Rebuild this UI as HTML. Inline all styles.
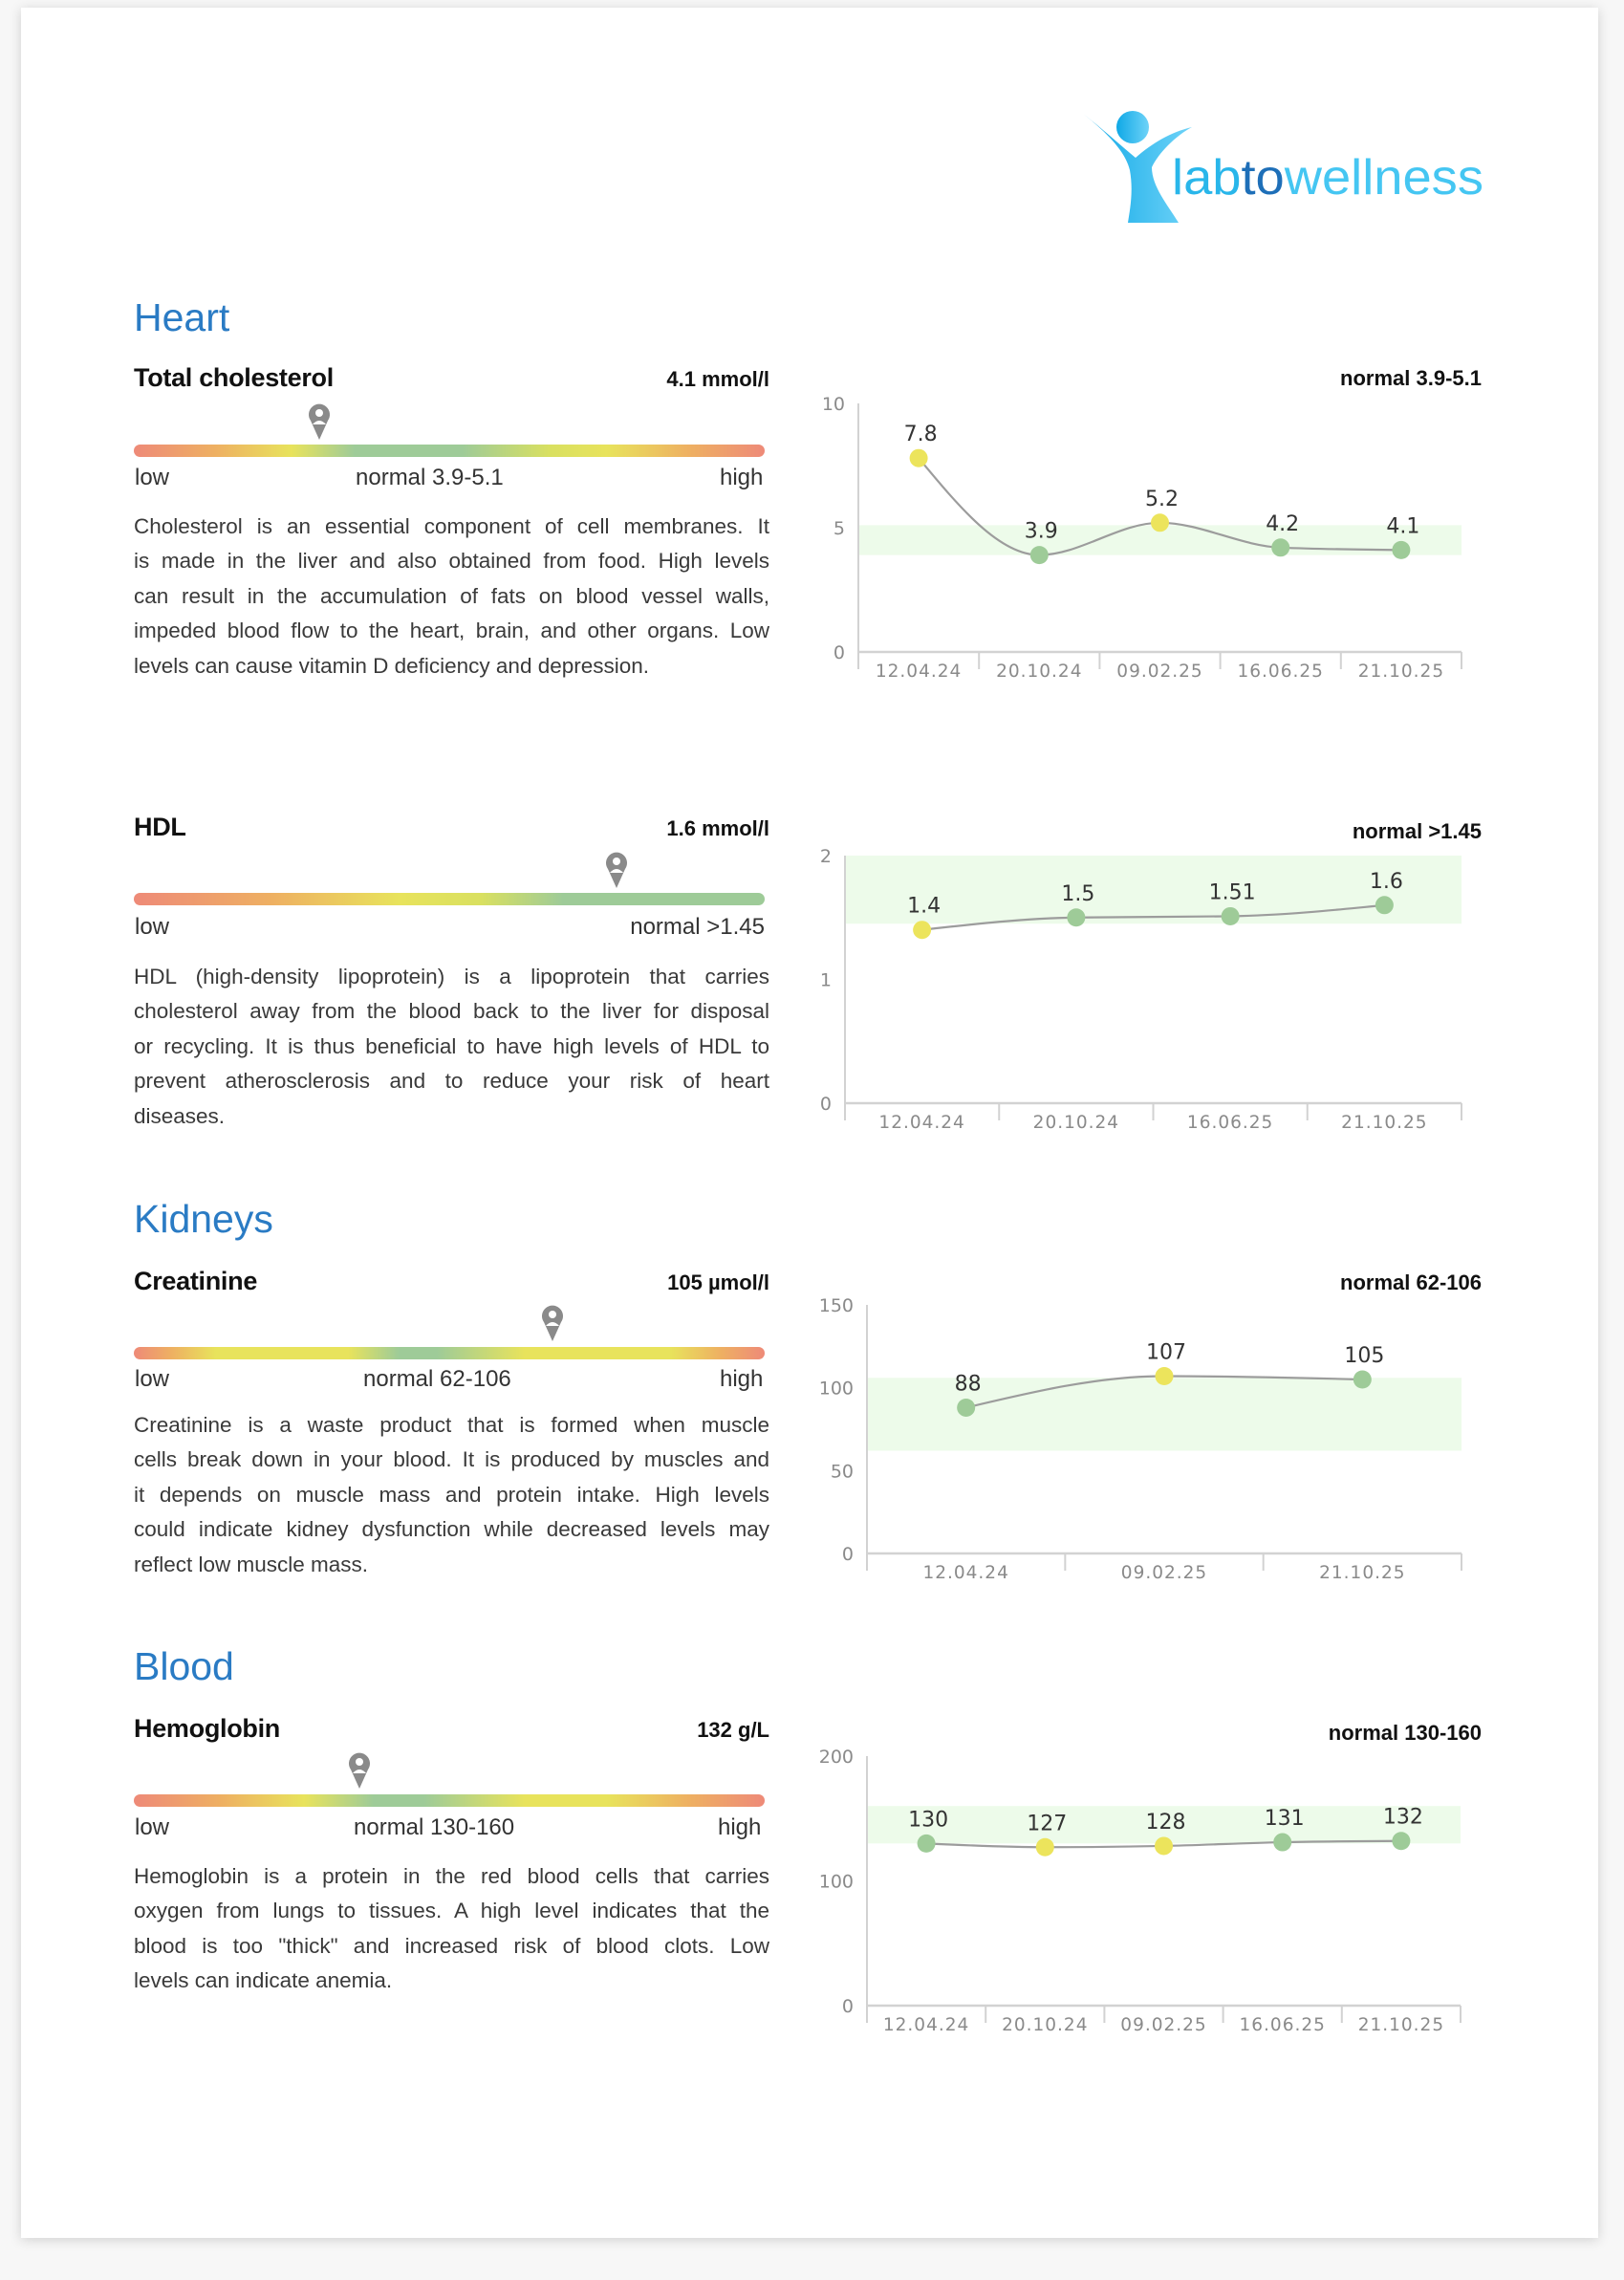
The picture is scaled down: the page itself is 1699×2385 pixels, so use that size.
<!DOCTYPE html>
<html><head><meta charset="utf-8">
<style>
html,body{margin:0;padding:0;background:#f7f7f7;}
body{width:1699px;height:2385px;position:relative;overflow:hidden;font-family:"Liberation Sans",sans-serif;}
#card{position:absolute;left:22px;top:8px;width:1650px;height:2333px;background:#fff;box-shadow:0 2px 12px rgba(0,0,0,0.16);}
.abs{position:absolute;}
.section{color:#2a7bc4;font-size:41px;line-height:1;}
.mtitle{font-size:27px;color:#111;line-height:1;font-weight:bold;letter-spacing:-0.3px;}
.mval{font-size:22px;color:#111;font-weight:bold;line-height:1;text-align:right;}
.lbl{font-size:24px;color:#333;line-height:1;}
.bar{height:13px;border-radius:7px;left:140px;width:660px;}
.para{left:140px;width:665px;font-size:22.5px;color:#3a3a3a;}
.para div{height:36.4px;line-height:36.4px;text-align:justify;text-align-last:justify;white-space:nowrap;}
.para div.last{text-align-last:left;}
</style></head>
<body>
<div id="card"></div>

<svg class="abs" style="left:0;top:0" width="1699" height="2385">
  <defs>
    <linearGradient id="lg1" x1="0" y1="0" x2="1" y2="0"><stop offset="0" stop-color="#0fa8e6"/><stop offset="1" stop-color="#6fd3f8"/></linearGradient>
  </defs>
  <circle cx="1185" cy="133" r="17" fill="url(#lg1)"/>
  <path d="M1133,119 C1160,140 1178,160 1182,178 C1186,200 1182,220 1180,233 L1233,233 C1222,215 1205,195 1205,175 C1212,160 1230,142 1247,133 C1225,138 1205,150 1188,165 C1170,150 1150,132 1133,119 Z" fill="url(#lg1)"/>
  <text x="1226" y="203" font-family="Liberation Sans, sans-serif" font-size="52" textLength="326" lengthAdjust="spacingAndGlyphs"><tspan fill="#29b6ea">lab</tspan><tspan fill="#1e6fb8">to</tspan><tspan fill="#45c6f2">wellness</tspan></text>
</svg>

<!-- Heart -->
<div class="abs section" style="left:140px;top:312px">Heart</div>
<div class="abs mtitle" style="left:140px;top:382px">Total cholesterol</div>
<div class="abs mval" style="left:600px;width:205px;top:386px">4.1 mmol/l</div>
<div class="abs bar" style="top:465px;background:linear-gradient(90deg,#ee8a78 0%,#eeb062 13%,#e8e35c 25%,#9ecb98 35%,#9ecb98 52%,#d9e060 66%,#e8e35c 75%,#eeb062 88%,#ee8a78 100%)"></div>
<div class="abs lbl" style="left:141px;top:488px">low</div>
<div class="abs lbl" style="left:372px;top:488px">normal 3.9-5.1</div>
<div class="abs lbl" style="left:753px;top:488px">high</div>
<div class="abs para" style="top:533px">
<div>Cholesterol is an essential component of cell membranes. It</div>
<div>is made in the liver and also obtained from food. High levels</div>
<div>can result in the accumulation of fats on blood vessel walls,</div>
<div>impeded blood flow to the heart, brain, and other organs. Low</div>
<div class="last">levels can cause vitamin D deficiency and depression.</div>
</div>

<!-- HDL -->
<div class="abs mtitle" style="left:140px;top:852px">HDL</div>
<div class="abs mval" style="left:600px;width:205px;top:856px">1.6 mmol/l</div>
<div class="abs bar" style="top:934px;background:linear-gradient(90deg,#ee8a78 0%,#eeb062 22%,#e8e35c 42%,#d9e060 55%,#9ecb98 68%,#9ecb98 100%)"></div>
<div class="abs lbl" style="left:141px;top:958px">low</div>
<div class="abs lbl" style="left:600px;width:200px;text-align:right;top:958px">normal &gt;1.45</div>
<div class="abs para" style="top:1004px">
<div>HDL (high-density lipoprotein) is a lipoprotein that carries</div>
<div>cholesterol away from the blood back to the liver for disposal</div>
<div>or recycling. It is thus beneficial to have high levels of HDL to</div>
<div>prevent atherosclerosis and to reduce your risk of heart</div>
<div class="last">diseases.</div>
</div>

<!-- Kidneys -->
<div class="abs section" style="left:140px;top:1255px">Kidneys</div>
<div class="abs mtitle" style="left:140px;top:1327px">Creatinine</div>
<div class="abs mval" style="left:600px;width:205px;top:1331px">105 µmol/l</div>
<div class="abs bar" style="top:1409px;background:linear-gradient(90deg,#ee8a78 0%,#eeb062 6%,#e8e35c 13%,#e8e35c 34%,#9ecb98 42%,#9ecb98 48%,#e8e35c 62%,#e8e35c 85%,#eeb062 93%,#ee8a78 100%)"></div>
<div class="abs lbl" style="left:141px;top:1431px">low</div>
<div class="abs lbl" style="left:380px;top:1431px">normal 62-106</div>
<div class="abs lbl" style="left:753px;top:1431px">high</div>
<div class="abs para" style="top:1473px">
<div>Creatinine is a waste product that is formed when muscle</div>
<div>cells break down in your blood. It is produced by muscles and</div>
<div>it depends on muscle mass and protein intake. High levels</div>
<div>could indicate kidney dysfunction while decreased levels may</div>
<div class="last">reflect low muscle mass.</div>
</div>

<!-- Blood -->
<div class="abs section" style="left:140px;top:1723px">Blood</div>
<div class="abs mtitle" style="left:140px;top:1795px">Hemoglobin</div>
<div class="abs mval" style="left:600px;width:205px;top:1799px">132 g/L</div>
<div class="abs bar" style="top:1877px;background:linear-gradient(90deg,#ee8a78 0%,#eeb062 14%,#e8e35c 27%,#9ecb98 38%,#9ecb98 46%,#e8e35c 62%,#e8e35c 75%,#eeb062 88%,#ee8a78 100%)"></div>
<div class="abs lbl" style="left:141px;top:1900px">low</div>
<div class="abs lbl" style="left:370px;top:1900px">normal 130-160</div>
<div class="abs lbl" style="left:751px;top:1900px">high</div>
<div class="abs para" style="top:1945px">
<div>Hemoglobin is a protein in the red blood cells that carries</div>
<div>oxygen from lungs to tissues. A high level indicates that the</div>
<div>blood is too "thick" and increased risk of blood clots. Low</div>
<div class="last">levels can indicate anemia.</div>
</div>

<svg id="charts" class="abs" style="left:0;top:0" width="1699" height="2385"></svg>

<script>
// ---- data ----
const cholDates = ["12.04.24","20.10.24","09.02.25","16.06.25","21.10.25"];
const cholValues = [7.8, 3.9, 5.2, 4.2, 4.1];
const cholLabels = ["7.8","3.9","5.2","4.2","4.1"];
const cholTicks = [0, 5, 10];
const cholNormal = [3.9, 5.1];

const hdlDates = ["12.04.24","20.10.24","16.06.25","21.10.25"];
const hdlValues = [1.4, 1.5, 1.51, 1.6];
const hdlLabels = ["1.4","1.5","1.51","1.6"];
const hdlTicks = [0, 1, 2];
const hdlNormal = [1.45, 2];

const creaDates = ["12.04.24","09.02.25","21.10.25"];
const creaValues = [88, 107, 105];
const creaLabels = ["88","107","105"];
const creaTicks = [0, 50, 100, 150];
const creaNormal = [62, 106];

const hemoDates = ["12.04.24","20.10.24","09.02.25","16.06.25","21.10.25"];
const hemoValues = [130, 127, 128, 131, 132];
const hemoLabels = ["130","127","128","131","132"];
const hemoTicks = [0, 100, 200];
const hemoNormal = [130, 160];

const NS = "http://www.w3.org/2000/svg";
const svg = document.getElementById("charts");
function mk(tag, attrs, parent){
  const e = document.createElementNS(NS, tag);
  for (const k in attrs) e.setAttribute(k, attrs[k]);
  (parent||svg).appendChild(e);
  return e;
}
function monotone(pts){
  const n = pts.length;
  if (n < 2) return "";
  const s = [], t = [];
  for (let i=0;i<n-1;i++) s.push((pts[i+1][1]-pts[i][1])/(pts[i+1][0]-pts[i][0]));
  for (let i=1;i<n-1;i++){
    const h0 = pts[i][0]-pts[i-1][0], h1 = pts[i+1][0]-pts[i][0];
    const p = (s[i-1]*h1 + s[i]*h0)/(h0+h1);
    t[i] = (Math.sign(s[i-1])+Math.sign(s[i]))*Math.min(Math.abs(s[i-1]),Math.abs(s[i]),0.5*Math.abs(p)) || 0;
  }
  if (n === 2){ t[0]=s[0]; t[1]=s[0]; }
  else { t[0] = (3*s[0]-t[1])/2; t[n-1] = (3*s[n-2]-t[n-2])/2; }
  let d = "M"+pts[0][0]+","+pts[0][1];
  for (let i=0;i<n-1;i++){
    const h = (pts[i+1][0]-pts[i][0])/3;
    d += " C"+(pts[i][0]+h)+","+(pts[i][1]+t[i]*h)+" "+(pts[i+1][0]-h)+","+(pts[i+1][1]-t[i+1]*h)+" "+pts[i+1][0]+","+pts[i+1][1];
  }
  return d;
}
function drawChart(cfg, dates, values, labels, ticks, normal, title){
  const g = mk("g", {});
  
  
  const max = ticks[ticks.length-1];
  const y = v => cfg.yb - v/max*(cfg.yb-cfg.yt);
  const bw = (cfg.x1-cfg.x0)/dates.length;
  const x = i => cfg.x0 + bw*(i+0.5);
  const band = mk("rect", {x:cfg.x0, y:y(normal[1]), width:cfg.x1-cfg.x0, height:y(normal[0])-y(normal[1]), fill:"#edfbea"}, g);
  
  
  const ya = mk("line", {x1:cfg.x0, y1:cfg.yt, x2:cfg.x0, y2:cfg.yb+18, stroke:"#d2d2d2", "stroke-width":2}, g);
  
  
  const xa = mk("line", {x1:cfg.x0, y1:cfg.yb, x2:cfg.x1, y2:cfg.yb, stroke:"#d2d2d2", "stroke-width":2.5}, g);
  
  
  for (let i=1;i<=dates.length;i++){
    const tk = mk("line", {x1:cfg.x0+bw*i, y1:cfg.yb, x2:cfg.x0+bw*i, y2:cfg.yb+18, stroke:"#d2d2d2", "stroke-width":2}, g);
    
    
  }
  ticks.forEach(v => {
    const t = mk("text", {x:cfg.x0-14, y:y(v)+7, "text-anchor":"end", "font-size":19, fill:"#8a8a8a", "font-family":"DejaVu Sans, sans-serif"}, g);
    t.textContent = v;
    
    
  });
  dates.forEach((d,i) => {
    const t = mk("text", {x:x(i), y:cfg.yb+26, "text-anchor":"middle", "font-size":18.5, fill:"#8a8a8a", "letter-spacing":"1", "font-family":"DejaVu Sans, sans-serif"}, g);
    t.textContent = d;
    
    
  });
  const pts = values.map((v,i)=>[x(i), y(v)]);
  const line = mk("path", {d:monotone(pts), fill:"none", stroke:"#9c9c9c", "stroke-width":2.2}, g);
  
  
  values.forEach((v,i) => {
    const ok = v >= normal[0] && v <= normal[1];
    const c = mk("circle", {cx:x(i), cy:y(v), r:9.5, fill: ok ? "#9ecb98" : "#ece45c"}, g);
    
    
    const t = mk("text", {x:x(i)+2, y:y(v)-18, "text-anchor":"middle", "font-size":22, fill:"#333", "font-family":"DejaVu Sans, sans-serif"}, g);
    t.textContent = labels[i];
    
    
  });
  const tt = mk("text", {x:1550, y:cfg.ty, "text-anchor":"end", "font-size":22, "font-weight":"bold", fill:"#111", "font-family":"Liberation Sans, sans-serif"}, g);
  tt.textContent = title;
  
  
}
drawChart({name:"cholesterol-chart", x0:898, x1:1529, yt:422, yb:682, ty:403}, cholDates, cholValues, cholLabels, cholTicks, cholNormal, "normal 3.9-5.1");
drawChart({name:"hdl-chart", x0:884, x1:1529, yt:895, yb:1154, ty:877}, hdlDates, hdlValues, hdlLabels, hdlTicks, hdlNormal, "normal >1.45");
drawChart({name:"creatinine-chart", x0:907, x1:1529, yt:1365, yb:1625, ty:1349}, creaDates, creaValues, creaLabels, creaTicks, creaNormal, "normal 62-106");
drawChart({name:"hemoglobin-chart", x0:907, x1:1528, yt:1837, yb:2098, ty:1820}, hemoDates, hemoValues, hemoLabels, hemoTicks, hemoNormal, "normal 130-160");

// pins on range bars
const pinXs = [334, 645, 578, 376];
const pinTips = [460, 929, 1403, 1871];
const pinNames = ["cholesterol-marker","hdl-marker","creatinine-marker","hemoglobin-marker"];
pinXs.forEach((px,i) => {
  const ty = pinTips[i];
  const g = mk("g", {});
  
  
  mk("path", {d:`M${px},${ty} L${px-9},${ty-20} A11,11 0 1 1 ${px+9},${ty-20} Z`, fill:"#8a8a8a"}, g);
  mk("circle", {cx:px, cy:ty-28, r:4, fill:"#fff"}, g);
  mk("path", {d:`M${px-7},${ty-16} Q${px},${ty-24} ${px+7},${ty-16} Z`, fill:"#fff"}, g);
});
</script>
</body></html>
